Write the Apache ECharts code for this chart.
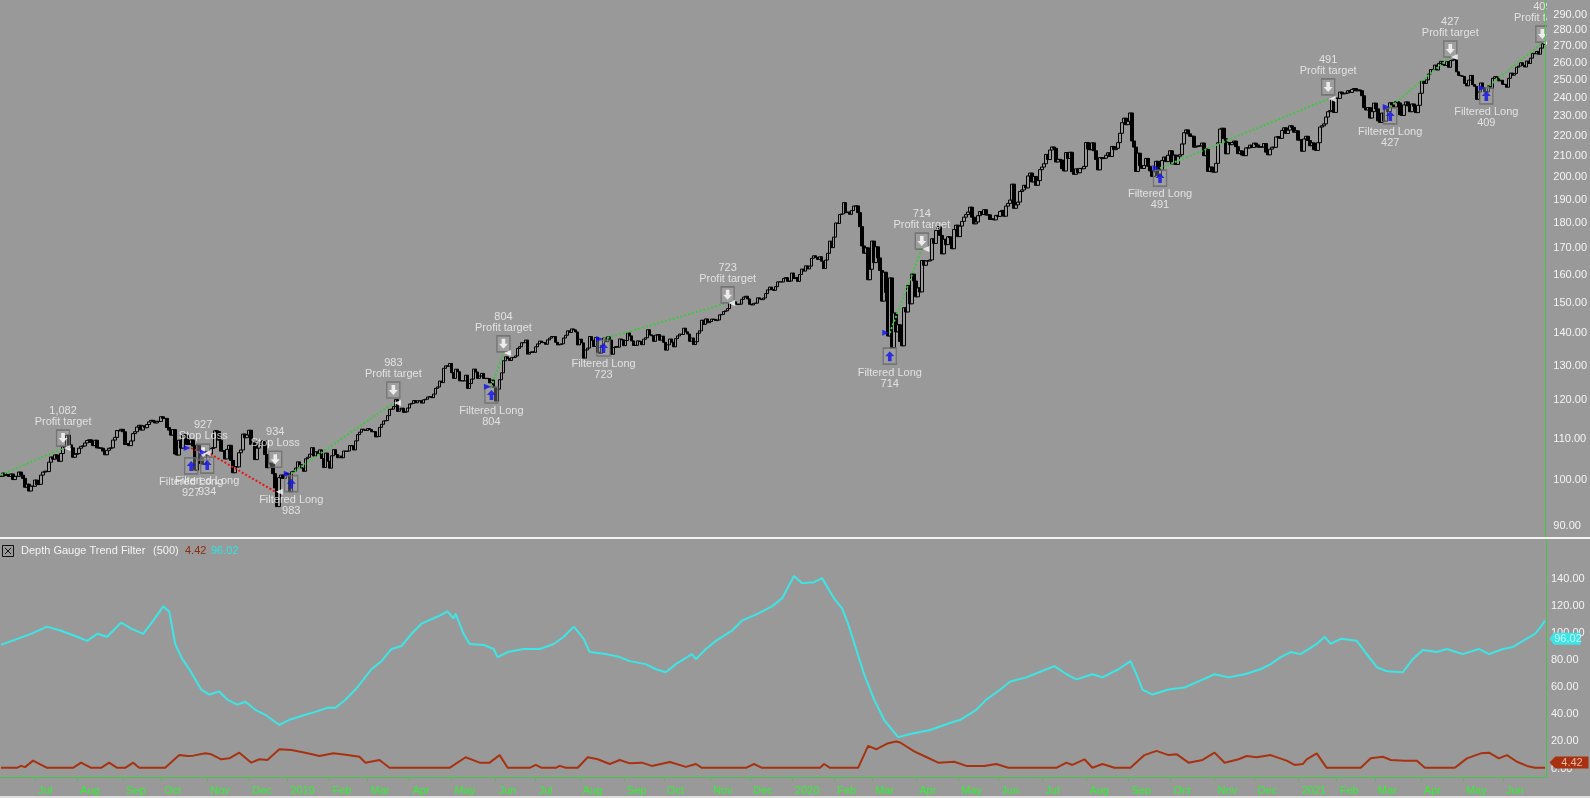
<!DOCTYPE html>
<html><head><meta charset="utf-8">
<script src="https://cdn.jsdelivr.net/npm/echarts@6/dist/echarts.min.js"></script>
<style>html,body{margin:0;padding:0;background:#999999;}#c{width:1590px;height:798px;}</style>
</head><body><div id="c"></div>
<script>
// ---------- data ----------
const startDate = '2018-06-07';
const endDate = '2021-06-30';
const holidays = ['2018-07-04','2018-09-03','2018-11-22','2018-12-05','2018-12-25',
 '2019-01-01','2019-01-21','2019-02-18','2019-04-19','2019-05-27','2019-07-04','2019-09-02','2019-11-28','2019-12-25',
 '2020-01-01','2020-01-20','2020-02-17','2020-04-10','2020-05-25','2020-07-03','2020-09-07','2020-11-26','2020-12-25',
 '2021-01-01','2021-01-18','2021-02-15','2021-04-02','2021-05-31'];
const monthNames = ['Jan','Feb','Mar','Apr','May','Jun','Jul','Aug','Sep','Oct','Nov','Dec'];

const close2018 = [
 100.88,101.63,101.05,101.31,100.85,101.42,100.13,100.86,100.86,101.87,101.14,100.41,98.39,99.08,97.54,98.63,98.61,
 100.01,98.99,99.05,101.16,101.85,102.06,101.98,104.19,105.43,104.91,105.95,105.12,104.40,106.27,107.97,107.66,110.83,108.40,107.68,105.37,106.08,
 106.28,107.57,108.04,108.13,108.88,109.49,109.67,109.00,108.21,109.56,107.66,107.64,107.58,106.87,105.98,107.06,107.56,107.68,109.60,110.26,112.02,111.95,112.33,
 111.71,108.49,108.74,108.21,109.38,111.24,111.71,112.91,113.37,112.14,113.21,112.74,113.57,114.26,114.67,114.45,113.98,114.41,114.37,
 115.61,115.15,115.17,112.79,112.13,110.85,112.26,106.16,105.91,109.57,107.60,111.00,110.71,108.50,108.66,109.63,108.10,102.32,108.30,106.96,103.85,103.73,106.81,
 105.92,106.16,107.51,107.72,111.96,111.75,109.57,106.87,106.94,104.97,107.28,108.29,104.62,101.71,103.11,103.07,106.47,107.14,111.12,110.19,110.89,
 112.09,108.52,109.19,104.82,107.59,108.59,109.08,109.45,106.03,102.89,103.97,103.69,101.51,98.23,94.13,100.56,101.18,100.39,101.57];
const close2019 = [
 101.12,97.40,101.93,102.06,102.80,104.27,103.60,102.80,102.05,105.01,105.38,106.12,107.71,105.68,106.71,106.20,107.17,105.08,102.94,106.38,104.43,
 102.78,105.74,107.22,106.03,105.27,105.67,105.25,106.89,106.81,106.90,108.22,108.17,107.15,109.41,110.97,111.59,112.36,112.17,112.03,
 112.53,112.26,111.70,111.75,110.39,110.51,112.83,113.62,114.50,114.59,115.91,117.57,117.65,118.34,120.22,117.05,117.66,117.91,116.77,116.93,117.94,
 119.02,119.19,119.97,119.36,119.89,119.93,119.28,120.19,120.33,120.95,121.05,120.77,121.77,123.37,123.76,125.44,125.01,129.15,129.89,129.77,130.60,
 127.88,126.21,128.90,128.15,125.52,125.51,125.50,127.13,123.35,124.73,126.02,128.93,128.07,126.22,126.90,127.67,126.18,126.24,126.16,124.94,125.73,123.68,
 119.84,123.16,125.83,127.82,131.40,132.60,132.10,131.49,132.32,132.45,132.85,135.16,135.69,136.95,136.97,137.78,133.43,133.93,134.15,133.96,
 135.68,136.58,137.46,137.06,136.96,136.46,137.85,138.40,138.90,138.90,137.08,136.27,136.42,136.62,138.43,139.29,140.72,140.19,141.34,141.03,140.35,136.27,
 138.06,136.90,132.21,134.69,135.28,138.89,137.71,135.79,138.60,133.98,133.68,136.13,138.41,137.26,138.79,137.78,133.39,135.45,135.74,135.56,138.12,137.86,
 136.04,137.63,140.05,139.10,137.52,136.08,136.12,137.52,137.32,136.33,138.05,138.52,141.07,139.44,139.14,137.38,139.36,139.54,137.73,139.03,
 137.07,134.65,136.28,138.12,137.12,135.67,138.24,139.10,139.68,139.55,141.57,140.41,139.69,137.41,138.43,136.37,137.24,139.94,140.73,144.19,142.83,144.61,143.37,
 143.72,144.55,144.46,144.06,144.26,145.96,146.11,147.07,147.31,148.06,149.97,150.34,150.39,149.62,149.48,149.59,151.23,152.03,152.32,151.38,
 149.55,149.31,149.85,149.93,151.75,151.36,151.13,151.70,153.24,154.53,155.53,154.69,154.37,155.71,157.41,157.41,157.38,158.67,158.96,157.59,157.70];
const close2020 = [
 160.62,158.62,159.03,157.58,160.09,162.09,161.34,163.28,162.13,163.18,166.17,167.10,166.50,165.70,166.72,165.04,162.28,165.46,168.04,172.78,170.23,
 174.38,180.12,179.90,183.63,183.89,188.70,184.44,184.71,183.71,185.35,187.23,187.28,184.42,178.59,170.89,168.07,170.17,158.18,162.01,
 172.79,164.51,170.55,166.27,161.57,150.62,160.92,153.63,139.06,158.83,135.42,146.57,140.40,142.71,137.35,135.98,148.34,146.92,156.11,149.70,160.23,157.71,
 152.11,155.26,153.83,165.27,163.49,165.13,165.14,165.51,173.70,171.88,177.04,178.60,175.06,167.82,173.52,171.42,174.55,174.05,169.81,177.43,179.21,
 174.57,178.84,180.76,182.54,183.60,184.68,186.74,182.51,179.75,180.53,183.16,184.91,183.63,185.66,183.43,183.51,181.57,181.81,181.40,183.25,
 182.83,184.91,185.36,182.92,187.20,188.36,189.80,196.84,186.27,187.74,188.94,193.57,194.24,196.32,195.15,200.57,201.91,197.84,200.34,196.33,198.44,203.51,
 204.70,206.26,210.70,208.25,212.83,214.32,213.67,207.07,208.35,208.04,203.92,202.88,211.60,208.75,211.75,202.54,201.30,203.85,202.02,204.06,203.90,205.01,
 216.54,213.29,212.94,216.35,212.48,208.25,203.38,209.19,208.70,208.90,210.28,211.49,209.70,214.58,213.02,213.69,216.47,221.15,226.58,228.91,225.53,
 227.27,231.65,217.30,214.25,202.66,211.29,205.37,204.03,205.41,208.78,205.05,202.91,200.39,202.54,207.42,200.59,203.19,207.82,209.44,207.26,210.33,
 212.46,206.19,210.38,205.91,209.83,210.58,215.81,221.40,222.86,220.86,219.66,219.66,214.22,214.65,214.80,214.89,216.23,210.08,213.25,202.68,204.72,202.47,
 202.33,206.43,216.39,223.29,223.72,218.39,211.01,216.55,215.44,216.51,217.23,214.46,211.08,212.42,210.39,210.11,213.86,213.87,215.23,214.07,
 216.21,215.37,214.24,214.36,214.29,216.01,211.80,210.52,213.26,214.20,214.13,219.28,219.42,218.59,222.59,223.94,221.02,222.75,224.96,224.15,221.68,222.42];
const close2021 = [
 217.69,217.90,212.25,218.29,219.62,217.49,214.93,216.34,213.02,212.65,216.44,224.34,224.97,225.95,229.53,232.33,232.90,238.93,231.96,
 239.65,239.51,243.00,242.01,242.20,242.47,243.77,242.82,244.49,244.99,243.70,244.20,243.79,240.97,234.51,233.27,234.55,228.99,232.38,
 236.94,233.87,227.56,226.73,231.60,227.39,233.78,232.42,237.13,235.75,234.81,237.71,237.04,230.72,230.35,235.99,237.58,235.46,232.34,236.48,235.24,231.85,235.77,
 242.35,249.07,247.86,249.90,253.25,255.85,255.91,258.49,255.59,259.50,260.74,258.74,258.26,260.58,257.17,261.15,261.55,261.97,254.56,252.51,252.18,
 251.86,247.79,246.47,249.73,252.46,247.18,246.23,239.00,243.03,248.15,245.18,243.08,243.12,246.48,245.17,250.78,251.72,251.49,249.31,249.68,
 247.40,247.30,245.71,250.79,253.81,252.57,253.59,257.24,257.89,259.89,258.36,257.38,260.90,259.43,262.63,265.51,265.27,266.69,265.02,268.72,271.40,270.90];

const priceTicks = [90,100,110,120,130,140,150,160,170,180,190,200,210,220,230,240,250,260,270,280,290];
const gaugeTicks = [0,20,40,60,80,100,120,140];

// trades (bar index, price)
const tradeNum   = ['1,082','927','934','983','804','723','714','491','427','409'];
const exitReason = ['Profit target','Stop Loss','Stop Loss','Profit target','Profit target','Profit target','Profit target','Profit target','Profit target','Profit target'];
const entryIdx   = [0, 95, 103, 145, 245, 301, 444, 579, 694, 742];
const entryPrice = [101.2, 107.6, 106.6, 101.5, 123.8, 138.1, 140.1, 204.2, 234.9, 245.3];
const entryMark  = [null, 103.3, 103.5, 99.2, 121.5, 135.3, 132.8, 199.6, 230.1, 240.9];
const exitIdx    = [31, 101, 137, 196, 251, 363, 460, 663, 724, 770];
const exitPrice  = [107.6, 106.4, 97.4, 119.3, 133.8, 150.0, 169.7, 239.2, 263.3, 271.9];
const exitMark   = [110.1, 106.6, 104.9, 122.9, 136.6, 152.8, 172.8, 245.9, 268.2, 277.5];
const tradeWin   = [true, false, false, true, true, true, true, true, true, true];

// Depth Gauge Trend Filter: [bar index, value]
const gaugeHi = [[0,91.4],[15,99.6],[23,104.9],[30,101.9],[38,97.4],[43,94.4],[48,99.6],[53,97.4],[60,107.9],[65,103.4],[71,99.6],[76,109.4],[81,119.9],[84,116.1],[87,92.1],[90,82.4],[94,73.4],[100,58.4],[104,54.7],[109,56.9],[113,50.9],[118,47.2],[122,49.4],[127,43.4],[132,39.7],[139,32.2],[144,36.0],[152,39.7],[157,41.9],[163,44.9],[167,44.9],[172,50.9],[177,58.4],[185,73.4],[190,79.4],[195,88.4],[200,90.6],[205,99.6],[210,107.1],[218,112.4],[223,116.1],[226,110.9],[227,114.6],[231,99.6],[234,92.1],[241,91.4],[246,88.4],[248,82.4],[253,86.1],[261,88.4],[269,88.4],[276,92.1],[281,97.4],[286,104.9],[291,95.9],[294,86.1],[302,84.6],[309,82.4],[314,79.4],[322,77.2],[327,73.4],[332,71.2],[337,77.2],[345,84.6],[347,80.9],[352,88.4],[357,94.4],[365,101.9],[370,109.4],[378,114.6],[385,119.9],[390,125.8],[396,142.3],[400,137.1],[406,137.8],[410,140.8],[416,125.8],[420,118.4],[423,107.1],[427,88.4],[431,69.7],[436,50.9],[441,36.0],[445,28.5],[448,23.2],[454,25.5],[464,28.5],[471,32.2],[479,36.0],[487,43.4],[492,50.9],[499,58.4],[504,64.4],[512,67.4],[522,73.4],[526,75.7],[532,69.7],[537,65.9],[545,69.7],[550,67.4],[558,73.4],[564,79.4],[567,69.7],[570,58.4],[575,54.7],[583,58.4],[591,59.9],[598,64.4],[606,69.7],[613,67.4],[621,69.7],[629,73.4],[634,77.2],[639,82.4],[644,86.1],[649,84.6],[657,92.1],[661,97.4],[664,92.1],[669,95.9],[677,94.4],[682,84.6],[687,74.9],[692,71.9],[700,71.2],[705,80.9],[710,87.6],[717,86.1],[722,88.4],[730,84.6],[738,88.4],[743,84.6],[750,88.4],[755,89.9],[760,94.4],[766,99.6],[769,104.9],[771,109.4]];
const gaugeLo = [[0,0.5],[8,0.5],[10,1.9],[12,1],[16,5.8],[23,0.5],[36,0.5],[40,4.3],[45,0.5],[50,0.5],[54,4.3],[58,0.5],[62,0.5],[66,4.3],[69,0.5],[82,0.5],[89,9.9],[93,9.2],[96,9.5],[102,11.2],[105,10.5],[110,6.8],[114,7.5],[119,11.7],[125,4.3],[129,6.8],[133,6.3],[139,14.2],[145,13.7],[152,11.7],[159,9.2],[166,11.2],[173,9.9],[179,8.7],[182,4.3],[189,6.3],[194,0.5],[224,0.5],[232,8.3],[239,4.3],[244,4.3],[249,9.9],[253,0.5],[264,0.5],[267,2.6],[270,0.5],[277,0.5],[279,1.9],[282,0.5],[288,0.5],[293,8.3],[298,6.8],[304,3.3],[309,6.3],[314,3.8],[320,4.3],[325,1.9],[334,4.8],[342,1.2],[347,3.3],[350,0.5],[372,0.5],[376,3.3],[380,0.5],[409,0.5],[411,3.3],[414,0.5],[428,0.5],[433,16.7],[437,14.2],[443,18.7],[447,19.9],[449,19.2],[456,12.7],[462,8.5],[468,4.3],[476,5.0],[482,1.9],[491,1.9],[497,3.3],[503,0.5],[527,0.5],[532,4.3],[535,2.6],[541,6.8],[545,0.5],[550,3.3],[556,0.5],[564,0.5],[571,9.9],[577,13],[583,9.9],[587,10.6],[593,4.3],[600,6.3],[606,11.7],[611,4.3],[618,6.8],[622,9.2],[627,8.3],[634,9.9],[642,5.8],[646,2.6],[650,3.3],[652,6.8],[657,11.2],[662,0.5],[679,0.5],[684,7.5],[690,8.7],[694,6.3],[701,5.8],[707,5.8],[711,0.5],[726,0.5],[732,7.5],[739,11.2],[743,11.7],[748,7.5],[752,9.9],[757,5.0],[762,1.9],[766,0.5],[771,0.5]];
const gaugeLoLast = 4.42, gaugeHiLast = 96.02;

// ---------- build ----------
const dates = [];
(function(){
  const d = new Date(startDate + 'T00:00:00Z'), e = new Date(endDate + 'T00:00:00Z');
  for (; d <= e; d.setUTCDate(d.getUTCDate() + 1)) {
    const w = d.getUTCDay(); if (w === 0 || w === 6) continue;
    const s = d.toISOString().slice(0, 10); if (holidays.indexOf(s) >= 0) continue;
    dates.push(s);
  }
})();
const closes = close2018.concat(close2019, close2020, close2021);
const n = Math.min(dates.length, closes.length);
const cats = dates.slice(0, n);
const ohlc = [];
for (let i = 0; i < n; i++) {
  const o = i ? closes[i - 1] : closes[i], c = closes[i];
  ohlc.push([o, c, Math.min(o, c), Math.max(o, c)]);
}
const isMonthStart = cats.map((s, i) => i > 0 && s.slice(5, 7) !== cats[i - 1].slice(5, 7));
const zip = (a, b) => a.map((x, i) => [x, b[i]]);

const BG = '#999999', GREEN_LINE = '#45c545', GREEN_TXT = '#33f033', TXT = '#f4f4f4';
const CYAN = '#3ce6e6', RUST = '#a83210';
const FONT = 'Liberation Sans, Arial, sans-serif';
const upArrow = 'path://M3,10 L7,10 L7,5 L10,5 L5,0 L0,5 L3,5 Z';
const downArrow = 'path://M3,0 L7,0 L7,5 L10,5 L5,10 L0,5 L3,5 Z';
const flagPath = 'path://M0,6 L6,0 L40,0 L40,12 L6,12 Z';

const series = [];
series.push({
  type: 'candlestick', xAxisIndex: 0, yAxisIndex: 0, data: ohlc, large: false, barWidth: 3,
  itemStyle: { color: BG, color0: '#000000', borderColor: '#000000', borderColor0: '#000000', borderWidth: 1 },
  silent: true, z: 2
});
for (let t = 0; t < tradeNum.length; t++) {
  series.push({
    type: 'line', xAxisIndex: 0, yAxisIndex: 0, silent: true, symbol: 'none', z: 3,
    data: [[entryIdx[t], entryPrice[t]], [exitIdx[t], exitPrice[t]]],
    lineStyle: { color: tradeWin[t] ? '#3fc83f' : '#ee1111', width: 2, type: [2, 2] }
  });
}
const txtLabel = { show: true, color: TXT, fontSize: 11, fontFamily: FONT, lineHeight: 11 };
const exitData = exitIdx.map((x, i) => ({ value: [x, exitMark[i]], num: tradeNum[i], reason: exitReason[i] }));
const entryData = [];
entryIdx.forEach((x, i) => { if (entryMark[i] != null) entryData.push({ value: [x, entryMark[i]], num: tradeNum[i] }); });
series.push({
  type: 'scatter', xAxisIndex: 0, yAxisIndex: 0, silent: true, z: 4, clip: false,
  data: exitData, symbol: 'rect', symbolSize: [13, 16],
  itemStyle: { color: 'rgba(170,170,170,0.45)', borderColor: '#6c6c6c', borderWidth: 1.5 },
  label: Object.assign({}, txtLabel, { position: 'top', distance: 2, align: 'center', formatter: p => p.data.num + '\n' + p.data.reason })
});
series.push({
  type: 'scatter', xAxisIndex: 0, yAxisIndex: 0, silent: true, z: 5, clip: false,
  data: exitData.map(d => d.value), symbol: downArrow, symbolSize: [9, 10], itemStyle: { color: '#ffffff' }
});
series.push({
  type: 'scatter', xAxisIndex: 0, yAxisIndex: 0, silent: true, z: 5,
  data: zip(exitIdx, exitPrice), symbol: 'triangle', symbolRotate: 90, symbolSize: [6, 7], symbolOffset: [4, 0],
  itemStyle: { color: '#ffffff' }
});
series.push({
  type: 'scatter', xAxisIndex: 0, yAxisIndex: 0, silent: true, z: 4,
  data: entryData, symbol: 'rect', symbolSize: [13, 16],
  itemStyle: { color: 'rgba(170,170,170,0.45)', borderColor: '#6c6c6c', borderWidth: 1.5 },
  label: Object.assign({}, txtLabel, { position: 'bottom', distance: 2, align: 'center', formatter: p => 'Filtered Long\n' + p.data.num })
});
series.push({
  type: 'scatter', xAxisIndex: 0, yAxisIndex: 0, silent: true, z: 5,
  data: entryData.map(d => d.value), symbol: upArrow, symbolSize: [9, 10], itemStyle: { color: '#1010ee' }
});
series.push({
  type: 'scatter', xAxisIndex: 0, yAxisIndex: 0, silent: true, z: 5,
  data: zip(entryIdx.slice(1), entryPrice.slice(1)), symbol: 'triangle', symbolRotate: -90, symbolSize: [6, 7], symbolOffset: [-4, 0],
  itemStyle: { color: '#1010ee' }
});
series.push({
  type: 'line', xAxisIndex: 1, yAxisIndex: 1, silent: true, symbol: 'none', z: 3,
  data: gaugeLo, lineStyle: { color: RUST, width: 2 },
  markPoint: { silent: true, symbol: flagPath, symbolSize: [39, 12], symbolOffset: [24, 0], symbolKeepAspect: false,
    itemStyle: { color: RUST },
    label: { show: true, formatter: gaugeLoLast.toFixed(2), color: '#e8b8a8', fontSize: 11, fontFamily: FONT, offset: [3, 0] },
    data: [{ coord: [n - 1, gaugeLoLast] }] }
});
series.push({
  type: 'line', xAxisIndex: 1, yAxisIndex: 1, silent: true, symbol: 'none', z: 3,
  data: gaugeHi, lineStyle: { color: CYAN, width: 2 },
  markPoint: { silent: true, symbol: flagPath, symbolSize: [31, 12], symbolOffset: [20, 0], symbolKeepAspect: false,
    itemStyle: { color: CYAN },
    label: { show: true, formatter: gaugeHiLast.toFixed(2), color: '#c8f4f4', fontSize: 11, fontFamily: FONT, offset: [3, 0] },
    data: [{ coord: [n - 1, gaugeHiLast] }] }
});

const chart = echarts.init(document.getElementById('c'), null, { renderer: 'canvas' });
chart.setOption({
  backgroundColor: BG,
  animation: false,
  textStyle: { fontFamily: FONT },
  grid: [
    { left: 0, right: 44, top: 0, height: 537 },
    { left: 0, right: 44, top: 540, height: 237 }
  ],
  xAxis: [
    { type: 'category', gridIndex: 0, data: cats, boundaryGap: true, show: false },
    { type: 'category', gridIndex: 1, data: cats, boundaryGap: true,
      axisLine: { show: true, onZero: false, lineStyle: { color: GREEN_LINE, width: 1 } },
      axisTick: { show: true, interval: i => isMonthStart[i], alignWithLabel: true, length: 4, lineStyle: { color: GREEN_LINE } },
      axisLabel: { interval: i => isMonthStart[i], color: GREEN_TXT, fontSize: 11, fontFamily: FONT, align: 'left', margin: 8, padding: [0, 0, 0, 3],
        formatter: v => { const m = +v.slice(5, 7); return m === 1 ? v.slice(0, 4) : monthNames[m - 1]; } },
      splitLine: { show: false } }
  ],
  yAxis: [
    { type: 'log', logBase: 10, gridIndex: 0, position: 'right', min: 87.8, max: 300, z: 60,
      axisLine: { show: true, lineStyle: { color: GREEN_LINE, width: 1 } },
      axisTick: { show: false }, splitLine: { show: false }, minorTick: { show: false }, minorSplitLine: { show: false },
      axisLabel: { customValues: priceTicks, color: TXT, fontSize: 11, fontFamily: FONT, margin: 8, formatter: v => Number(v).toFixed(2) } },
    { type: 'value', gridIndex: 1, position: 'right', min: -6.3, max: 169,
      axisLine: { show: true, lineStyle: { color: GREEN_LINE, width: 1 } },
      axisTick: { show: false }, splitLine: { show: false },
      axisLabel: { customValues: gaugeTicks, color: TXT, fontSize: 11, fontFamily: FONT, margin: 5, formatter: v => Number(v).toFixed(2) } }
  ],
  graphic: [
    { type: 'rect', z: 50, silent: true, shape: { x: 1547, y: 0, width: 43, height: 536 }, style: { fill: BG } },
    { type: 'rect', z: 70, silent: true, shape: { x: 0, y: 537, width: 1590, height: 2 }, style: { fill: '#f2f2f2' } },
    { type: 'rect', z: 70, silent: true, shape: { x: 0, y: 796, width: 1590, height: 2 }, style: { fill: '#dedede' } },
    { type: 'rect', z: 70, silent: true, shape: { x: 2.5, y: 545.5, width: 11, height: 11 }, style: { fill: 'none', stroke: '#111', lineWidth: 1 } },
    { type: 'line', z: 70, silent: true, shape: { x1: 5, y1: 548, x2: 11, y2: 554 }, style: { stroke: '#111', lineWidth: 1 } },
    { type: 'line', z: 70, silent: true, shape: { x1: 11, y1: 548, x2: 5, y2: 554 }, style: { stroke: '#111', lineWidth: 1 } },
    { type: 'text', z: 70, silent: true, x: 21, y: 551, style: { text: 'Depth Gauge Trend Filter', fill: TXT, font: '11px ' + FONT, verticalAlign: 'middle' } },
    { type: 'text', z: 70, silent: true, x: 153, y: 551, style: { text: '(500)', fill: TXT, font: '11px ' + FONT, verticalAlign: 'middle' } },
    { type: 'text', z: 70, silent: true, x: 185, y: 551, style: { text: gaugeLoLast.toFixed(2), fill: '#8e2a10', font: '11px ' + FONT, verticalAlign: 'middle' } },
    { type: 'text', z: 70, silent: true, x: 211, y: 551, style: { text: gaugeHiLast.toFixed(2), fill: '#30e4e4', font: '11px ' + FONT, verticalAlign: 'middle' } }
  ],
  series: series
});
</script></body></html>
